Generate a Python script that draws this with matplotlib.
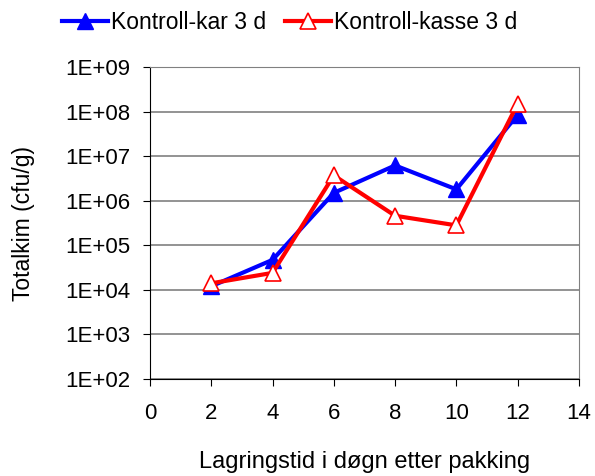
import numpy as np
import matplotlib.pyplot as plt

plt.rcParams['font.family'] = ['Liberation Sans', 'DejaVu Sans']

# data
days = [2, 4, 6, 8, 10, 12]
kar = [1.2e4, 4.7e4, 1.5e6, 6.2e6, 1.8e6, 8.5e7]
kasse = [1.4e4, 2.4e4, 3.7e6, 4.6e5, 2.8e5, 1.5e8]
yticks = [1e2, 1e3, 1e4, 1e5, 1e6, 1e7, 1e8, 1e9]
ylabels = ["1E+02", "1E+03", "1E+04", "1E+05", "1E+06", "1E+07", "1E+08", "1E+09"]

fig = plt.figure(figsize=(5.95, 4.76), dpi=100)
ax = fig.add_axes([0.252, 0.204, 0.721, 0.655])

ax.plot(days, kar, color='blue', lw=3, marker='^', ms=11,
        mfc='blue', mec='blue', label='Kontroll-kar 3 d')
ax.plot(days, kasse, color='red', lw=3, marker='^', ms=11,
        mfc='white', mec='red', mew=1.2, label='Kontroll-kasse 3 d')

ax.set_yscale('log')
ax.set_ylim(1e2, 1e9)
ax.set_yticks(yticks)
ax.set_yticklabels(ylabels)
ax.minorticks_off()
ax.set_xlim(0, 14)
ax.set_xticks(range(0, 15, 2))

ax.grid(axis='y', color='gray', lw=1.2)
ax.set_axisbelow(True)
for s in ['top', 'right']:
    ax.spines[s].set_color('gray')
for s in ['left', 'bottom']:
    ax.spines[s].set_color('black')
ax.tick_params(labelsize=16, direction='out', length=5)
ax.tick_params(axis='y', pad=9)
ax.tick_params(axis='x', pad=12)

ax.set_ylabel('Totalkim (cfu/g)', fontsize=16.5, labelpad=22)
ax.set_xlabel('Lagringstid i døgn etter pakking', fontsize=17, labelpad=20)

fig.legend(loc='center', bbox_to_anchor=(0.487, 0.952), ncol=2,
           frameon=False, fontsize=16.5, handlelength=2.0, columnspacing=0.8,
           handletextpad=0.15)

plt.savefig('out.png', format='png')
